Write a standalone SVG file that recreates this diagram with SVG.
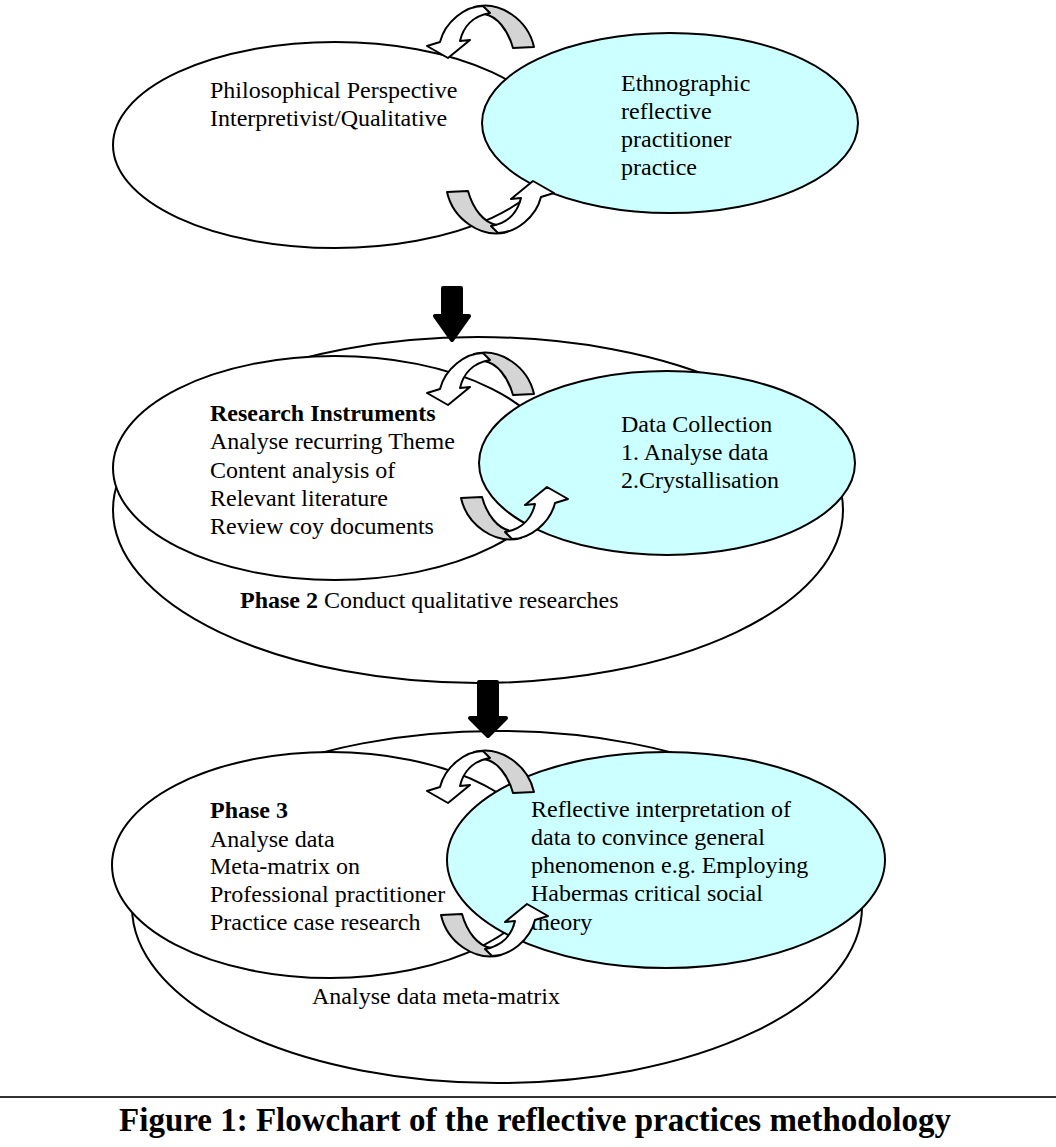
<svg xmlns="http://www.w3.org/2000/svg" xmlns:xlink="http://www.w3.org/1999/xlink" width="1056" height="1147" viewBox="0 0 1056 1147">
<style>
.el{fill:#fff;stroke:#000;stroke-width:2}
.cy{fill:#ccffff;stroke:#000;stroke-width:2}
.t{font-family:"Liberation Serif","Times New Roman",serif;font-size:24px;fill:#000}
.b{font-weight:bold}
.grey{fill:#d4d4d4;stroke:#000;stroke-width:2;stroke-linejoin:round}
.wht{fill:#fff;stroke:#000;stroke-width:2;stroke-linejoin:round}
.blk{fill:#000;stroke:#000;stroke-width:4;stroke-linejoin:round}
</style>
<defs>
<g id="uturn">
<path class="grey" d="M474,7 C500,0 528,20 534,47 L513,48 C508,30 497,16 484,14 Z"/>
<path class="wht" d="M483,6 C465,6 445,22 440,42 L427,46 L448,58 L470,40 L460,41 C463,28 472,16 490,13 Z"/>
</g>
</defs>
<rect width="1056" height="1147" fill="#fff"/>

<g id="section1">
<g id="philosophical"><ellipse class="el" cx="335" cy="145" rx="222" ry="103"/></g>
<g id="ethnographic"><ellipse class="cy" cx="670" cy="123" rx="188" ry="90"/></g>
<text class="t" x="210" y="98">Philosophical Perspective</text>
<text class="t" x="210" y="126">Interpretivist/Qualitative</text>
<text class="t" x="621" y="91">Ethnographic</text>
<text class="t" x="621" y="119">reflective</text>
<text class="t" x="621" y="147">practitioner</text>
<text class="t" x="621" y="175">practice</text>
</g>

<g id="section2">
<g id="phase2"><ellipse class="el" cx="478" cy="510" rx="365" ry="173"/></g>
<g id="instruments"><ellipse class="el" cx="335" cy="468" rx="222" ry="112"/></g>
<g id="datacollection"><ellipse class="cy" cx="667" cy="463" rx="188" ry="92"/></g>
<text class="t b" x="210" y="421">Research Instruments</text>
<text class="t" x="210" y="449">Analyse recurring Theme</text>
<text class="t" x="210" y="478">Content analysis of</text>
<text class="t" x="210" y="506">Relevant literature</text>
<text class="t" x="210" y="534">Review coy documents</text>
<text class="t" x="621" y="432">Data Collection</text>
<text class="t" x="621" y="460">1. Analyse data</text>
<text class="t" x="621" y="488">2.Crystallisation</text>
<text class="t" x="240" y="608"><tspan class="b">Phase 2</tspan> Conduct qualitative researches</text>
</g>

<g id="section3">
<g id="phase3outer"><ellipse class="el" cx="497" cy="907" rx="365" ry="176"/></g>
<g id="phase3"><ellipse class="el" cx="330" cy="865" rx="218" ry="113"/></g>
<g id="reflective"><ellipse class="cy" cx="666" cy="860" rx="219" ry="108"/></g>
<text class="t b" x="210" y="818">Phase 3</text>
<text class="t" x="210" y="847">Analyse data</text>
<text class="t" x="210" y="874">Meta-matrix on</text>
<text class="t" x="210" y="902">Professional practitioner</text>
<text class="t" x="210" y="930">Practice case research</text>
<text class="t" x="531" y="817">Reflective interpretation of</text>
<text class="t" x="531" y="845">data to convince general</text>
<text class="t" x="531" y="873">phenomenon e.g. Employing</text>
<text class="t" x="531" y="901">Habermas critical social</text>
<text class="t" x="531" y="930">theory</text>
<text class="t" x="312" y="1004">Analyse data meta-matrix</text>
</g>

<g id="connectors">
<use xlink:href="#uturn"/>
<use xlink:href="#uturn" transform="rotate(180 490.5 119.5)"/>
<use xlink:href="#uturn" transform="translate(0 347)"/>
<use xlink:href="#uturn" transform="rotate(180 497.5 272.5)"/>
<use xlink:href="#uturn" transform="translate(0 745)"/>
<use xlink:href="#uturn" transform="rotate(180 487.5 481)"/>
<path class="blk" d="M443,288 L461,288 L461,316 L469,316 L452,340 L435,316 L443,316 Z"/>
<path class="blk" d="M479,682 L497,682 L497,718 L506,718 L488,736 L470,718 L479,718 Z"/>
</g>

<line x1="0" y1="1097" x2="1056" y2="1097" stroke="#333" stroke-width="2"/>
<text class="t b" x="535" y="1131" text-anchor="middle" style="font-size:33px">Figure 1: Flowchart of the reflective practices methodology</text>
</svg>
